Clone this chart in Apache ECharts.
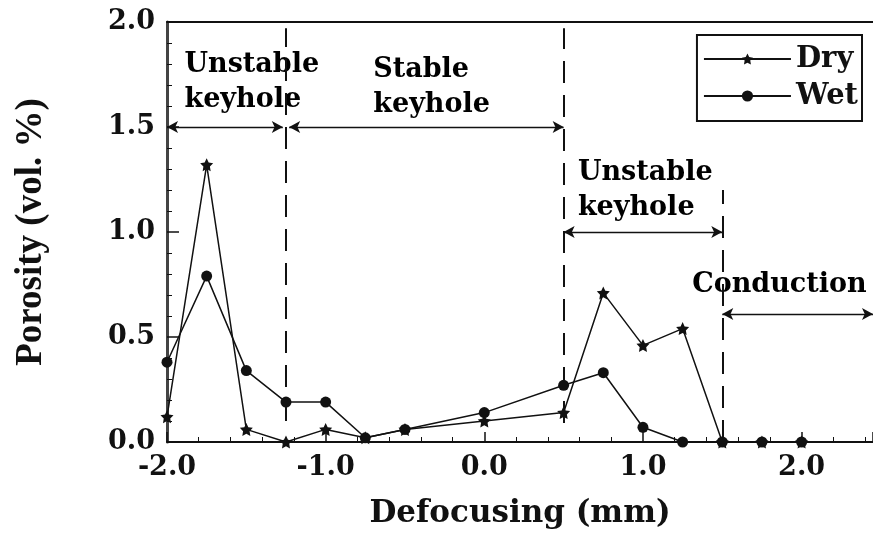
<!DOCTYPE html>
<html><head><meta charset="utf-8">
<script src="https://cdn.jsdelivr.net/npm/echarts@6/dist/echarts.min.js"></script>
<style>html,body{margin:0;padding:0;background:#fff}#c{width:873px;height:537px}</style>
</head><body><div id="c"></div>
<script>
// ---- data ----
const defocus     = [-2.0, -1.75, -1.5, -1.25, -1.0, -0.75, -0.5, 0.0, 0.5, 0.75, 1.0, 1.25, 1.5, 1.75, 2.0];
const dryPorosity = [0.12, 1.32, 0.06, 0.00, 0.06, 0.02, 0.06, 0.10, 0.14, 0.71, 0.46, 0.54, 0.00, 0.00, 0.00];
const wetPorosity = [0.38, 0.79, 0.34, 0.19, 0.19, 0.02, 0.06, 0.14, 0.27, 0.33, 0.07, 0.00, 0.00, 0.00, 0.00];
const xTickLabels = ['-2.0', '-1.0', '0.0', '1.0', '2.0'];
const yTickLabels = ['0.0', '0.5', '1.0', '1.5', '2.0'];
// regime boundaries: [x, yFrom, yTo]
const regionBounds = [[-1.25, 0.10, 1.97], [0.5, 0.09, 1.97], [1.5, 0.0, 1.2]];
// regime arrows: [xFrom, xTo, y]
const regionArrows = [[-2.0, -1.27, 1.5], [-1.23, 0.5, 1.5], [0.5, 1.5, 1.0], [1.5, 2.45, 0.61]];
const regionLabels = ['Unstable\nkeyhole', 'Stable\nkeyhole', 'Unstable\nkeyhole', 'Conduction'];
const regionLabelAt = [[-1.89, 1.71], [-0.70, 1.69], [0.59, 1.20], [1.31, 0.75]];

const SERIF = '"DejaVu Serif", serif';
const star = 'path://M0,-10L2.94,-4.05L9.51,-3.09L4.76,1.55L5.88,8.09L0,5L-5.88,8.09L-4.76,1.55L-9.51,-3.09L-2.94,-4.05Z';

const chart = echarts.init(document.getElementById('c'));
const pairs = (ys) => defocus.map((x, i) => [x, ys[i]]);

const markLineData = [];
regionBounds.forEach(b => markLineData.push([
  {coord: [b[0], b[1]], symbol: 'none', lineStyle: {type: [22, 12], width: 2, color: '#111'}},
  {coord: [b[0], b[2]], symbol: 'none'}
]));
regionArrows.forEach(a => markLineData.push([
  {coord: [a[0], a[2]], symbol: 'arrow', lineStyle: {type: 'solid', width: 1.3, color: '#111'}},
  {coord: [a[1], a[2]], symbol: 'arrow'}
]));

chart.setOption({
  animation: false,
  backgroundColor: '#fff',
  grid: {left: 167, right: 0, top: 22, bottom: 95, containLabel: false},
  legend: {
    data: ['Dry', 'Wet'],
    orient: 'vertical',
    right: 11, top: 35,
    padding: [9, 4, 10, 6],
    itemGap: 7,
    itemWidth: 87, itemHeight: 14,
    borderColor: '#111', borderWidth: 2,
    textStyle: {fontFamily: SERIF, fontWeight: 'bold', fontSize: 29, color: '#111', lineHeight: 30}
  },
  xAxis: [{
    type: 'value', min: -2, max: 2.45, interval: 1,
    name: 'Defocusing (mm)', nameLocation: 'middle', nameGap: 56,
    nameTextStyle: {fontFamily: SERIF, fontWeight: 'bold', fontSize: 31, color: '#111'},
    axisLine: {show: true, onZero: false, lineStyle: {color: '#111', width: 2}},
    axisTick: {show: true, inside: true, length: 10, lineStyle: {color: '#111', width: 1.5}},
    minorTick: {show: true, splitNumber: 5, length: 5, lineStyle: {color: '#111', width: 1}},
    splitLine: {show: false},
    axisLabel: {
      showMaxLabel: false, margin: 12,
      fontFamily: SERIF, fontWeight: 'bold', fontSize: 27, color: '#111',
      formatter: v => { const i = Math.round(v + 2); return Math.abs(v - (i - 2)) < 1e-6 && xTickLabels[i] ? xTickLabels[i] : ''; }
    }
  }, {
    type: 'value', min: -2, max: 2.45, position: 'top',
    axisLine: {show: true, onZero: false, lineStyle: {color: '#111', width: 2}},
    axisTick: {show: false}, axisLabel: {show: false}, splitLine: {show: false}
  }],
  yAxis: {
    type: 'value', min: 0, max: 2, interval: 0.5,
    name: 'Porosity (vol. %)', nameLocation: 'middle', nameGap: 117, nameRotate: 90,
    nameTextStyle: {fontFamily: '"Liberation Serif", serif', fontWeight: 'bold', fontSize: 37, color: '#111'},
    axisLine: {show: true, onZero: false, lineStyle: {color: '#444', width: 3}},
    axisTick: {show: true, inside: true, length: 12, lineStyle: {color: '#111', width: 1.5}},
    minorTick: {show: true, splitNumber: 5, length: 5, lineStyle: {color: '#111', width: 1}},
    splitLine: {show: false},
    axisLabel: {
      margin: 12, fontFamily: SERIF, fontWeight: 'bold', fontSize: 27, color: '#111',
      formatter: v => yTickLabels[Math.round(v / 0.5)] || ''
    }
  },
  series: [{
    name: 'Dry', type: 'line', data: pairs(dryPorosity),
    symbol: star, symbolSize: 13, showAllSymbol: true,
    lineStyle: {color: '#111', width: 1.5}, itemStyle: {color: '#111'}, z: 3
  }, {
    name: 'Wet', type: 'line', data: pairs(wetPorosity),
    symbol: 'circle', symbolSize: 11, showAllSymbol: true,
    lineStyle: {color: '#111', width: 1.5}, itemStyle: {color: '#111'}, z: 3
  }, {
    name: 'regimes', type: 'scatter', silent: true, symbolSize: 0,
    itemStyle: {opacity: 1, color: '#111'},
    data: regionLabels.map((t, i) => ({name: t, value: regionLabelAt[i]})),
    label: {
      show: true, position: 'inside', align: 'left', verticalAlign: 'middle',
      formatter: p => p.name, fontFamily: SERIF, fontWeight: 'bold', fontSize: 27,
      lineHeight: 35, color: '#000', opacity: 1, textBorderWidth: 0
    },
    markLine: {
      silent: true, symbol: ['arrow', 'arrow'], symbolSize: [9, 11],
      label: {show: false},
      lineStyle: {color: '#111'},
      data: markLineData
    }
  }]
});
</script></body></html>
